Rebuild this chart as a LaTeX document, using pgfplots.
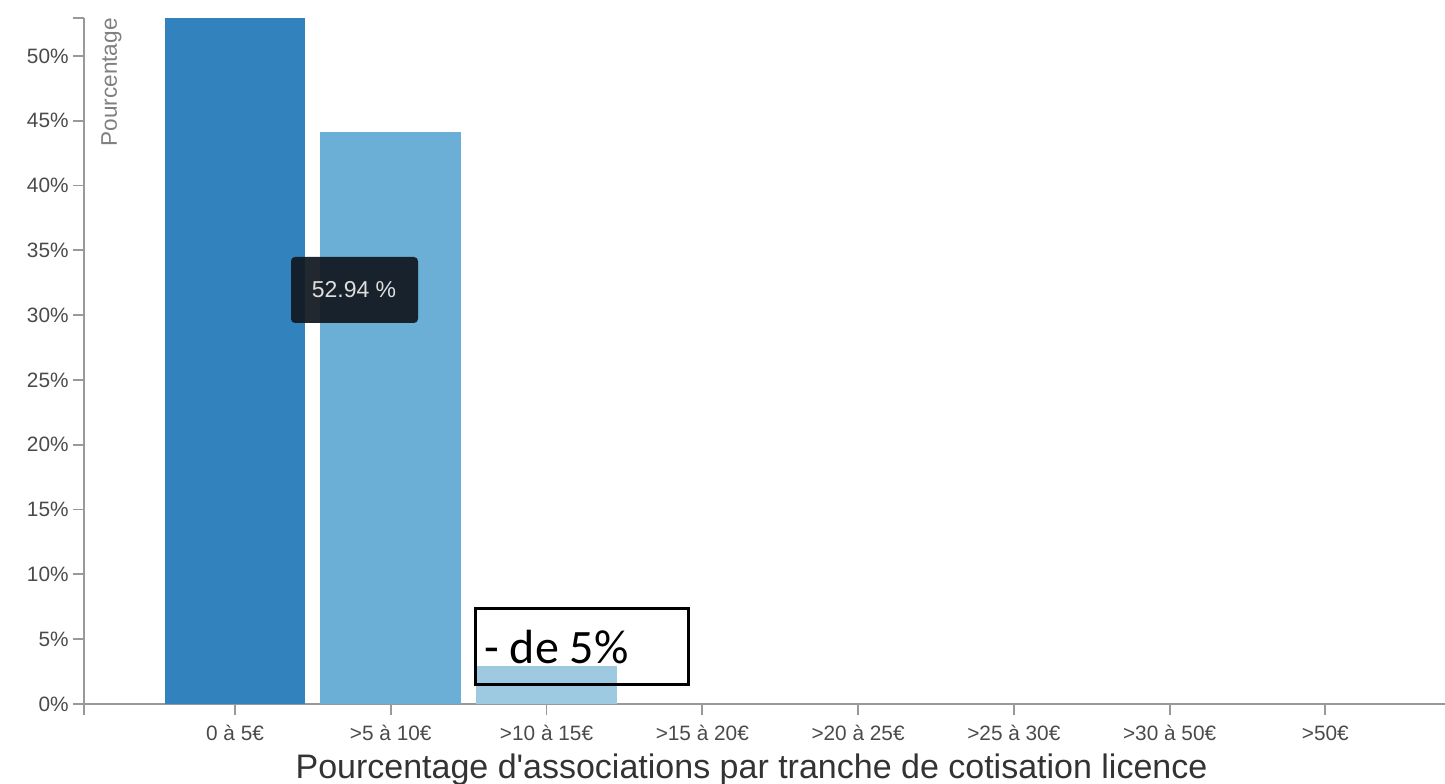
\documentclass[border=0pt]{standalone}
\usepackage{fontspec}
\setmainfont{Liberation Sans}[Ligatures=TeXOff]
\newfontfamily\calibri{Carlito}
\usepackage{pgfplots}
\pgfplotsset{compat=1.18}

\definecolor{barA}{HTML}{3182BD}
\definecolor{barB}{HTML}{6BAED6}
\definecolor{barC}{HTML}{9ECAE1}
\definecolor{axisgray}{HTML}{999999}
\definecolor{ticktext}{HTML}{4A4A4A}
\definecolor{labelgray}{HTML}{808080}
\definecolor{titletext}{HTML}{333333}
\definecolor{tipbg}{HTML}{111820}

\begin{document}
\begin{tikzpicture}
% page = 1445 x 783 px, 1 px = 0.5 pt
\path[use as bounding box] (0,0) rectangle (722.5pt,391.5pt);
\clip (0,0) rectangle (722.5pt,391.5pt);

\begin{axis}[
    at={(42pt,39.5pt)}, anchor=south west,
    scale only axis,
    width=680.5pt, height=343pt,
    xmin=-0.9694, xmax=7.768,
    ymin=0, ymax=52.93,
    axis lines=left,
    axis line style={-, draw=axisgray, line width=1.1pt},
    tick align=outside,
    major tick length=5.5pt,
    tick style={draw=axisgray, line width=0.9pt},
    xtick={0,1,2,3,4,5,6,7},
    xticklabels={0 à 5€, >5 à 10€, >10 à 15€, >15 à 20€, >20 à 25€, >25 à 30€, >30 à 50€, >50€},
    ytick={0,5,10,15,20,25,30,35,40,45,50},
    yticklabel={\pgfmathprintnumber{\tick}\%},
    /pgf/number format/assume math mode=true,
    extra y ticks={52.93}, extra y tick labels={},
    extra x ticks={-0.9694}, extra x tick labels={},
    ticklabel style={text=ticktext, font=\fontsize{10.4}{12}\selectfont},
    yticklabel style={inner sep=2pt},
    xticklabel style={yshift=-1pt, text height=8pt, text depth=1pt},
]
%% one bar per class
\addplot[ybar, bar shift=0pt, bar width=0.905, fill=barA, draw=none]
    coordinates {(0,52.94)};
\addplot[ybar, bar shift=0pt, bar width=0.905, fill=barB, draw=none]
    coordinates {(1,44.12)};
\addplot[ybar, bar shift=0pt, bar width=0.905, fill=barC, draw=none]
    coordinates {(2,2.94)};
\end{axis}

% annotations, in pixel units of the reference
\begin{scope}[x=0.5pt, y=-0.5pt, shift={(0pt,391.5pt)}]
  \node[rotate=90, anchor=north east, inner sep=0pt, text=labelgray,
        font=\fontsize{11.3}{13}\selectfont] at (101,18) {Pourcentage};
  \fill[tipbg, fill opacity=0.93, rounded corners=2pt] (291,257) rectangle (418,323);
  \node[text=white!87!black, font=\fontsize{11.5}{13}\selectfont] at (354,290) {52.94 \%};
  \draw[black, line width=1.5pt] (475,608) rectangle (688,684);
  \node[anchor=base west, inner sep=0pt, font=\calibri\fontsize{24}{28}\selectfont]
        at (484,663) {- de 5\%};
  \node[anchor=base, inner sep=0pt, text=titletext, font=\fontsize{17}{20}\selectfont]
        at (751.5,778) {Pourcentage d'associations par tranche de cotisation licence};
\end{scope}
\end{tikzpicture}
\end{document}
